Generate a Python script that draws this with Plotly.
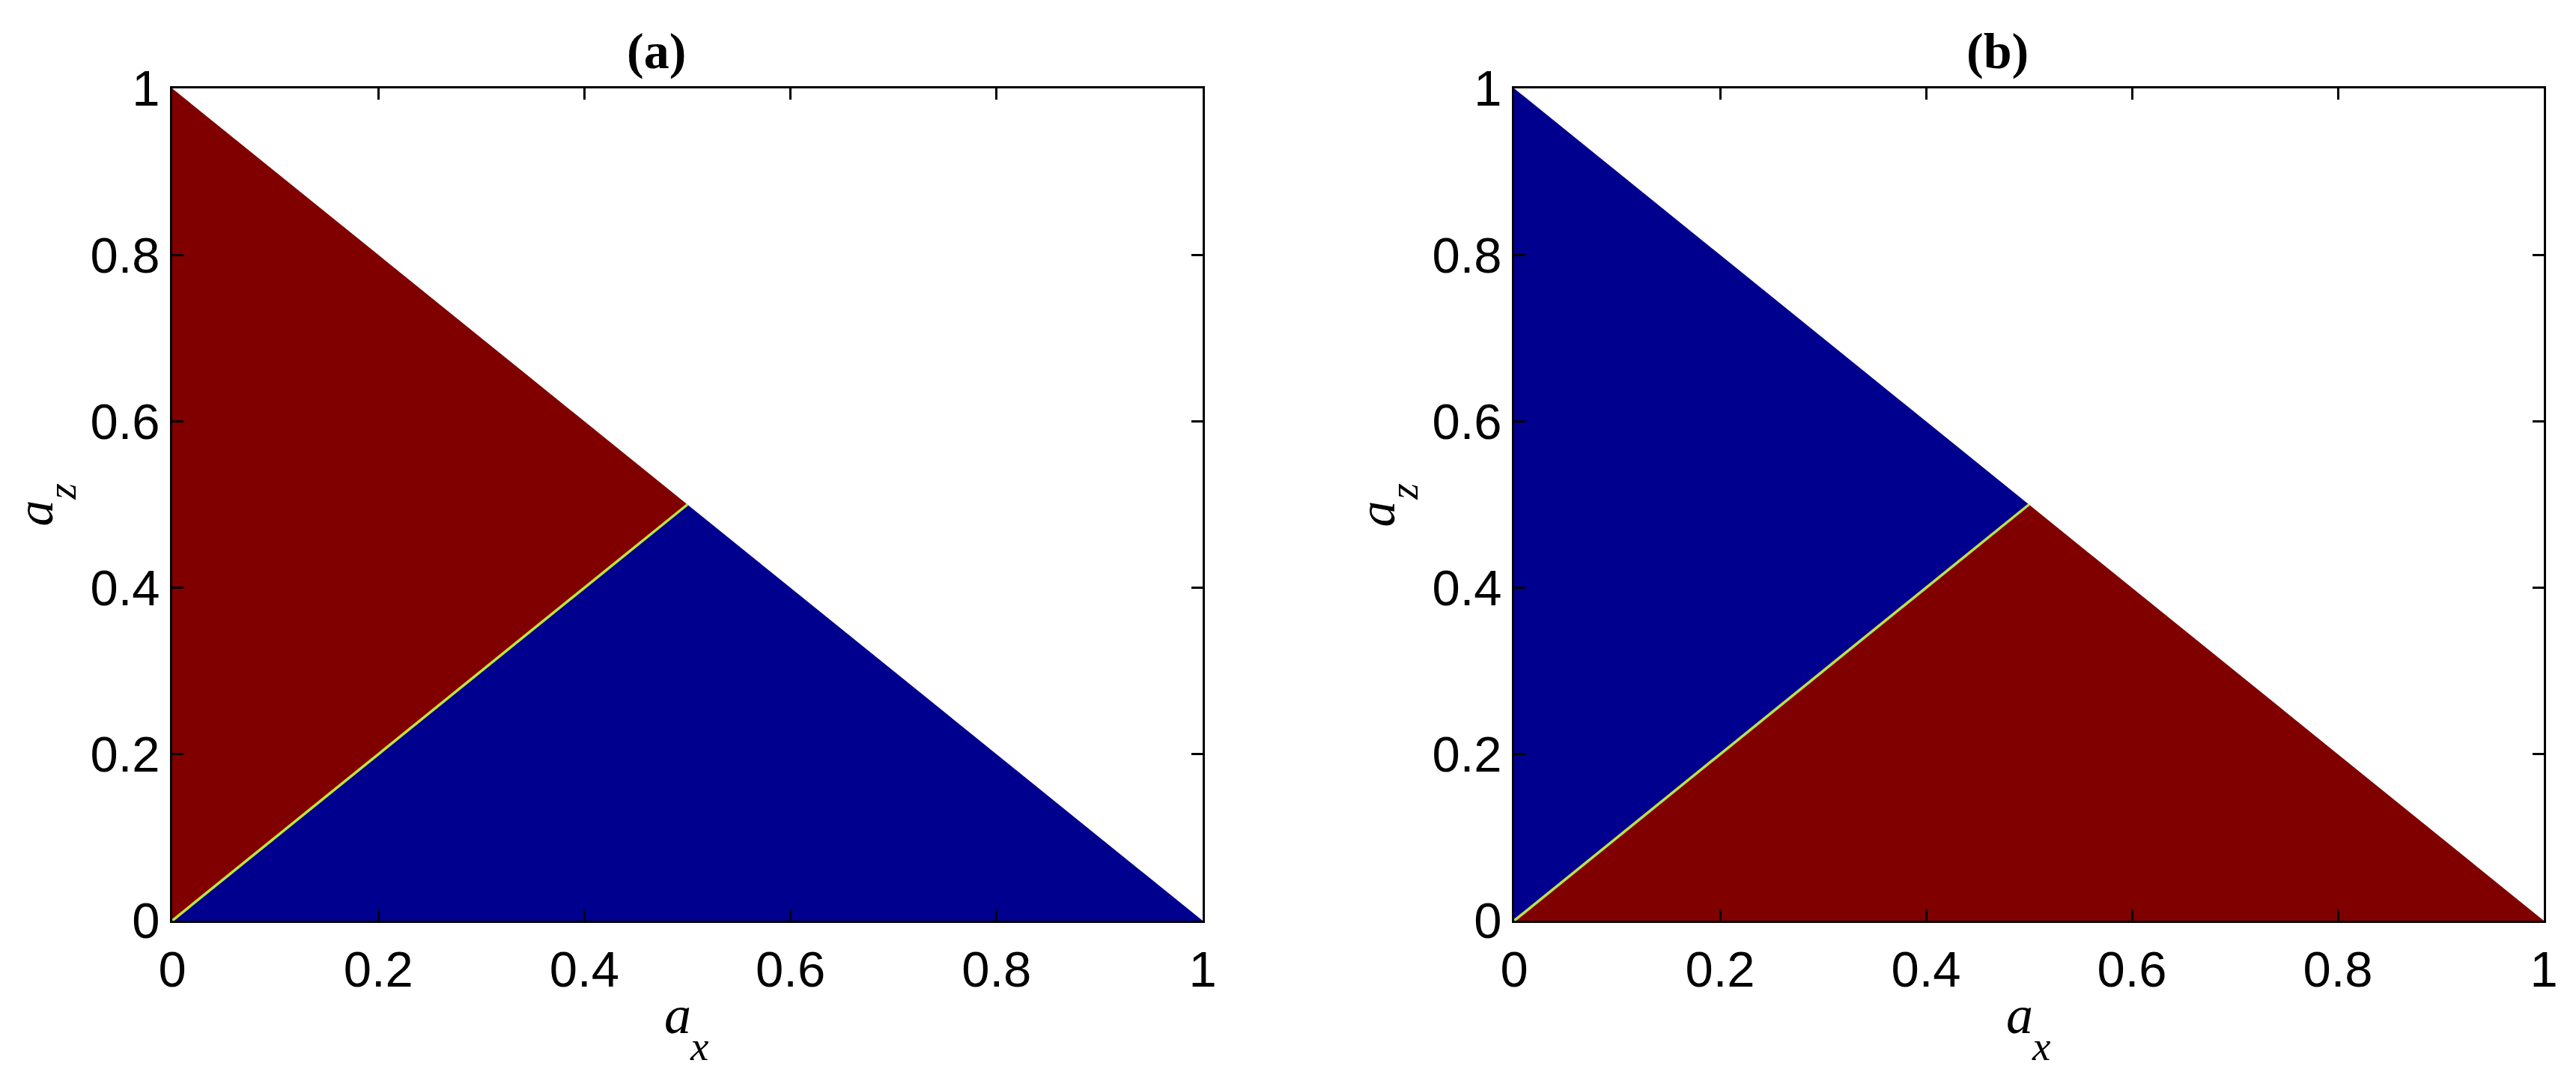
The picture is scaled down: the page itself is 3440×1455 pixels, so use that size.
import plotly.graph_objects as go

# figure size of the reference
W, H = 3440, 1455
# the page body adds a small margin, pull everything back by it
OFF = 8

# region corners in (a_x, a_z)
upper_ax = [0, 0, 0.5]
upper_az = [0, 1, 0.5]
lower_ax = [0, 0.5, 1]
lower_az = [0, 0.5, 0]
boundary_ax = [0, 0.5]
boundary_az = [0, 0.5]

tick_vals = [0, 0.2, 0.4, 0.6, 0.8, 1]
tick_text = ["0", "0.2", "0.4", "0.6", "0.8", "1"]

panel_titles = ["(a)", "(b)"]

RED = "#800000"
BLUE = "#00008F"


def px_x(p):
    return (p - OFF) / W


def px_y(p):
    return 1 - (p - OFF) / H


# pixel geometry measured on the reference
PANEL_LEFT = [230, 2022]
PANEL_RIGHT = [1606, 3397]
TOP, BOTTOM = 118, 1229

x_domains = [[px_x(l), px_x(r)] for l, r in zip(PANEL_LEFT, PANEL_RIGHT)]
y_domain = [px_y(BOTTOM), px_y(TOP)]

fig = go.Figure()

panels = [
    ("x", "y", RED, BLUE),
    ("x2", "y2", BLUE, RED),
]

for xa, ya, upper_col, lower_col in panels:
    fig.add_trace(go.Scatter(
        x=upper_ax, y=upper_az, xaxis=xa, yaxis=ya,
        fill="toself", fillcolor=upper_col, mode="lines",
        line=dict(width=0, color=upper_col), hoverinfo="skip"))
    fig.add_trace(go.Scatter(
        x=lower_ax, y=lower_az, xaxis=xa, yaxis=ya,
        fill="toself", fillcolor=lower_col, mode="lines",
        line=dict(width=0, color=lower_col), hoverinfo="skip"))
    # thin jet-like transition along the diagonal
    fig.add_trace(go.Scatter(
        x=boundary_ax, y=boundary_az, xaxis=xa, yaxis=ya,
        mode="lines", line=dict(width=3.5, color="#FFD200"), hoverinfo="skip"))
    fig.add_trace(go.Scatter(
        x=boundary_ax, y=boundary_az, xaxis=xa, yaxis=ya,
        mode="lines", line=dict(width=1.3, color="#60FFA0"), hoverinfo="skip"))

axis_style = dict(
    range=[0, 1],
    tickvals=tick_vals,
    ticktext=tick_text,
    ticks="inside",
    ticklen=15,
    tickwidth=3,
    tickcolor="black",
    showline=True,
    linewidth=3,
    linecolor="black",
    mirror="ticks",
    showgrid=False,
    zeroline=False,
    automargin=False,
    tickfont=dict(family="Liberation Sans, Arial, sans-serif", size=67, color="black"),
)

fig.update_layout(
    xaxis=dict(domain=x_domains[0], anchor="y", ticklabelstandoff=5, **axis_style),
    yaxis=dict(domain=y_domain, anchor="x", ticklabelstandoff=0, **axis_style),
    xaxis2=dict(domain=x_domains[1], anchor="y2", ticklabelstandoff=5, **axis_style),
    yaxis2=dict(domain=y_domain, anchor="x2", ticklabelstandoff=0, **axis_style),
    width=W,
    height=H,
    margin=dict(l=0, r=0, t=0, b=0, pad=0, autoexpand=False),
    paper_bgcolor="white",
    plot_bgcolor="white",
    showlegend=False,
)

serif = "Liberation Serif, Times New Roman, serif"

for i, title in enumerate(panel_titles):
    left = PANEL_LEFT[i]
    mid_x = (PANEL_LEFT[i] + PANEL_RIGHT[i]) / 2
    mid_y = (TOP + BOTTOM) / 2
    # panel title, sits a bit left of the centre like the original
    fig.add_annotation(
        text="<b>" + title + "</b>", xref="paper", yref="paper",
        x=px_x(mid_x - 42), y=px_y(68),
        xanchor="center", yanchor="middle", showarrow=False,
        font=dict(family=serif, size=68, color="black"))
    # x label: letter and subscript placed separately
    fig.add_annotation(
        text="<i>a</i>", xref="paper", yref="paper",
        x=px_x(mid_x - 13), y=px_y(1355),
        xanchor="center", yanchor="middle", showarrow=False,
        font=dict(family=serif, size=72, color="black"))
    fig.add_annotation(
        text="<i>x</i>", xref="paper", yref="paper",
        x=px_x(mid_x + 16), y=px_y(1396),
        xanchor="center", yanchor="middle", showarrow=False,
        font=dict(family=serif, size=55, color="black"))
    # y label, rotated
    fig.add_annotation(
        text="<i>a</i>", xref="paper", yref="paper",
        x=px_x(left - 184), y=px_y(mid_y + 12),
        xanchor="center", yanchor="middle", textangle=-90, showarrow=False,
        font=dict(family=serif, size=70, color="black"))
    fig.add_annotation(
        text="<i>z</i>", xref="paper", yref="paper",
        x=px_x(left - 148), y=px_y(mid_y - 17),
        xanchor="center", yanchor="middle", textangle=-90, showarrow=False,
        font=dict(family=serif, size=55, color="black"))

fig.write_html("out.html")
